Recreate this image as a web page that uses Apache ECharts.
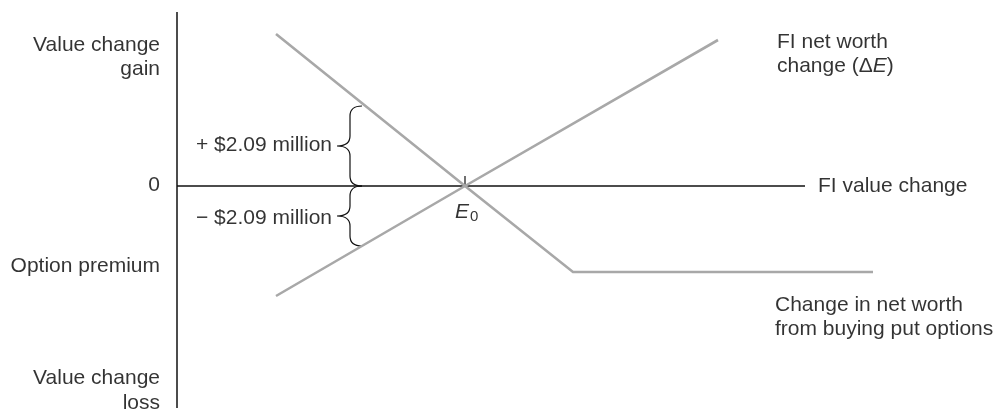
<!DOCTYPE html>
<html><head><meta charset="utf-8">
<script src="https://cdn.jsdelivr.net/npm/echarts@6/dist/echarts.min.js"></script>
<style>html,body{margin:0;padding:0;background:#fff}#c{width:1001px;height:409px}</style>
</head><body><div id="c"></div>
<script>
// Schematic units: origin at E0 (FI value change = 0, net worth change = 0)
const putOptionLine = [[-18.9, 15.2], [0, 0], [10.8, -8.6], [40.8, -8.6]];
const netWorthLine = [[-18.9, -11.0], [0, 0], [25.3, 14.6]];
const verticalAxis = [[-28.8, 17.4], [-28.8, -22.2]];
const horizontalAxis = [[-28.8, 0], [34.0, 0]];
const e0Tick = [[0, 0], [0, 1.0]];
const braces = [
  { x: -11.5, y1: 8.0, y2: 0 },   // + $2.09 million
  { x: -11.5, y1: 0, y2: -6.0 }    // - $2.09 million
];
const leftLabels = [
  { t: 'Value change\ngain', p: [-30.5, 12.9] },
  { t: '0', p: [-30.5, 0.05] },
  { t: 'Option premium', p: [-30.5, -8.05] },
  { t: 'Value change\nloss', p: [-30.5, -20.45] },
  { t: '+ $2.09 million', p: [-13.3, 4.05] },
  { t: '\u2212 $2.09 million', p: [-13.3, -3.25] }
];
const rightLabels = [
  { t: 'FI net worth\nchange ({d|\u0394}{i|E})', p: [31.2, 13.2] },
  { t: 'FI value change', p: [35.3, 0.0] },
  { t: 'Change in net worth\nfrom buying put options', p: [31.0, -13.1] },
  { t: '{i|E}{s|0}', p: [-1.0, -2.65] }
];

const FONT = '"Liberation Sans", Arial, Helvetica, sans-serif';
const TXT = '#000';
const chart = echarts.init(document.getElementById('c'));

function lineSeries(data, color, width) {
  return { type: 'line', data, symbol: 'none', silent: true, animation: false,
    lineStyle: { color, width, cap: 'butt', join: 'miter' } };
}
const rich = {
  i: { fontStyle: 'italic', fontSize: 21, fontFamily: FONT, color: TXT },
  d: { fontSize: 21, fontFamily: FONT, color: TXT },
  s: { fontSize: 15, fontFamily: FONT, color: TXT, verticalAlign: 'bottom', padding: [0,0,0,1] }
};
function labelSeries(items, align) {
  return { type: 'scatter', symbolSize: 0, silent: true, animation: false,
    data: items.map(o => ({ value: o.p, label: { formatter: o.t } })),
    label: { show: true, position: [0, 0], align, verticalAlign: 'middle',
      fontSize: 21, lineHeight: 24.5, fontFamily: FONT, color: TXT,
      textBorderWidth: 0, rich } };
}

chart.setOption({
  animation: false,
  grid: { left: 0, right: 0, top: 0, bottom: 0 },
  xAxis: { type: 'value', min: -46.5, max: 53.6, show: false },
  yAxis: { type: 'value', min: -22.3, max: 18.6, show: false },
  series: [
    lineSeries(verticalAxis, '#111', 1.5),
    lineSeries(horizontalAxis, '#111', 1.5),
    lineSeries(e0Tick, '#111', 1.2),
    lineSeries(putOptionLine, '#a8a8a8', 2.6),
    lineSeries(netWorthLine, '#a8a8a8', 2.6),
    {
      type: 'custom', silent: true, animation: false,
      data: braces.map(b => [b.x, b.y1, b.y2]),
      renderItem: function (params, api) {
        const top = api.coord([api.value(0), api.value(1)]);
        const bot = api.coord([api.value(0), api.value(2)]);
        const x0 = top[0] + 12, xm = top[0], xt = top[0] - 13;
        const y1 = top[1], y2 = bot[1], ym = (y1 + y2) / 2, r = 10;
        const d = `M${x0} ${y1} Q${xm} ${y1} ${xm} ${y1 + r} L${xm} ${ym - r} Q${xm} ${ym} ${xt} ${ym} ` +
                  `Q${xm} ${ym} ${xm} ${ym + r} L${xm} ${y2 - r} Q${xm} ${y2} ${x0} ${y2}`;
        return { type: 'path', shape: { pathData: d },
          style: { stroke: '#111', fill: null, lineWidth: 1.2 } };
      }
    },
    labelSeries(leftLabels, 'right'),
    labelSeries(rightLabels, 'left')
  ]
});
</script></body></html>
